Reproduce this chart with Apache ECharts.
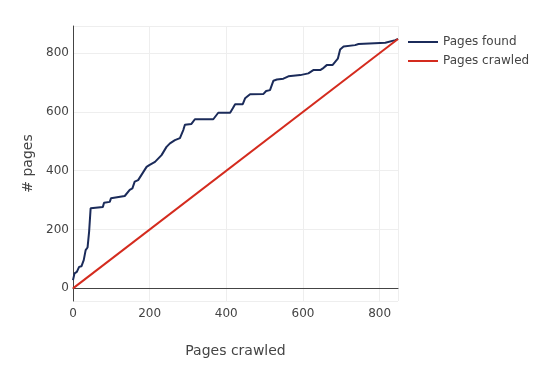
<!DOCTYPE html>
<html>
<head>
<meta charset="utf-8">
<script src="https://cdn.jsdelivr.net/npm/echarts@6/dist/echarts.min.js"></script>
<style>
    html, body { margin: 0; padding: 0; background: #fff; }
    #chart { width: 541px; height: 374px; }
</style>
</head>
<body>
<div id="chart"></div>
<script>
// pages crawled (x) vs pages found (y)
var foundX = [0, 4, 10, 16, 22, 28, 33, 38, 42, 46, 78, 81, 96, 99, 135, 148, 155, 161, 170, 174, 192, 199, 214, 231, 244, 253, 266, 279, 288, 292, 309, 318, 366, 379, 410, 417, 423, 443, 449, 462, 497, 504, 514, 523, 532, 549, 562, 593, 614, 627, 645, 651, 662, 677, 684, 691, 697, 706, 736, 745, 815, 819, 841, 848];
var foundY = [28, 51, 56, 73, 75, 96, 130, 139, 192, 272, 277, 291, 294, 306, 314, 335, 340, 363, 368, 370, 413, 419, 430, 453, 481, 493, 504, 511, 539, 556, 559, 575, 575, 597, 597, 612, 626, 626, 646, 660, 661, 671, 674, 706, 710, 713, 721, 725, 731, 742, 742, 747, 759, 759, 770, 781, 812, 822, 827, 831, 835, 841, 844, 848];
var crawledX = [0, 848];
var crawledY = [0, 848];

var chart = echarts.init(document.getElementById('chart'));

var textColor = '#444';
var font = '"DejaVu Sans", Verdana, sans-serif';

var option = {
    animation: false,
    textStyle: { fontFamily: font },
    grid: { left: 73, right: 143, top: 26, bottom: 73, containLabel: false },
    legend: {
        orient: 'vertical',
        left: 403,
        top: 31,
        itemWidth: 30,
        itemHeight: 2,
        itemGap: 7,
        icon: 'rect',
        textStyle: { color: textColor, fontSize: 12, fontFamily: font },
        data: ['Pages found', 'Pages crawled']
    },
    xAxis: {
        type: 'value',
        min: 0,
        max: 848,
        interval: 200,
        name: 'Pages crawled',
        nameLocation: 'middle',
        nameGap: 43,
        nameTextStyle: { color: textColor, fontSize: 14, fontFamily: font },
        axisLine: { onZero: true, lineStyle: { color: '#444', width: 1 } },
        axisTick: { show: false },
        axisLabel: { color: textColor, fontSize: 12, margin: 7, showMaxLabel: false },
        splitLine: { lineStyle: { color: '#eee', width: 1 } }
    },
    yAxis: {
        type: 'value',
        min: -43,
        max: 892,
        splitNumber: 5,
        name: '# pages',
        nameLocation: 'middle',
        nameGap: 31,
        nameTextStyle: { color: textColor, fontSize: 14, fontFamily: font },
        axisLine: { show: true, onZero: false, lineStyle: { color: '#444', width: 1 } },
        axisTick: { show: false },
        axisLabel: { color: textColor, fontSize: 12, margin: 4, showMinLabel: false, showMaxLabel: false },
        splitLine: { lineStyle: { color: '#eee', width: 1 } }
    },
    series: [
        {
            name: 'Pages found',
            type: 'line',
            data: foundX.map(function (x, i) { return [x, foundY[i]]; }),
            showSymbol: false,
            symbol: 'none',
            lineStyle: { color: '#1b2b5a', width: 2 },
            itemStyle: { color: '#1b2b5a' }
        },
        {
            name: 'Pages crawled',
            type: 'line',
            data: crawledX.map(function (x, i) { return [x, crawledY[i]]; }),
            showSymbol: false,
            symbol: 'none',
            lineStyle: { color: '#d42b1e', width: 2 },
            itemStyle: { color: '#d42b1e' }
        }
    ]
};

chart.setOption(option);
</script>
</body>
</html>
